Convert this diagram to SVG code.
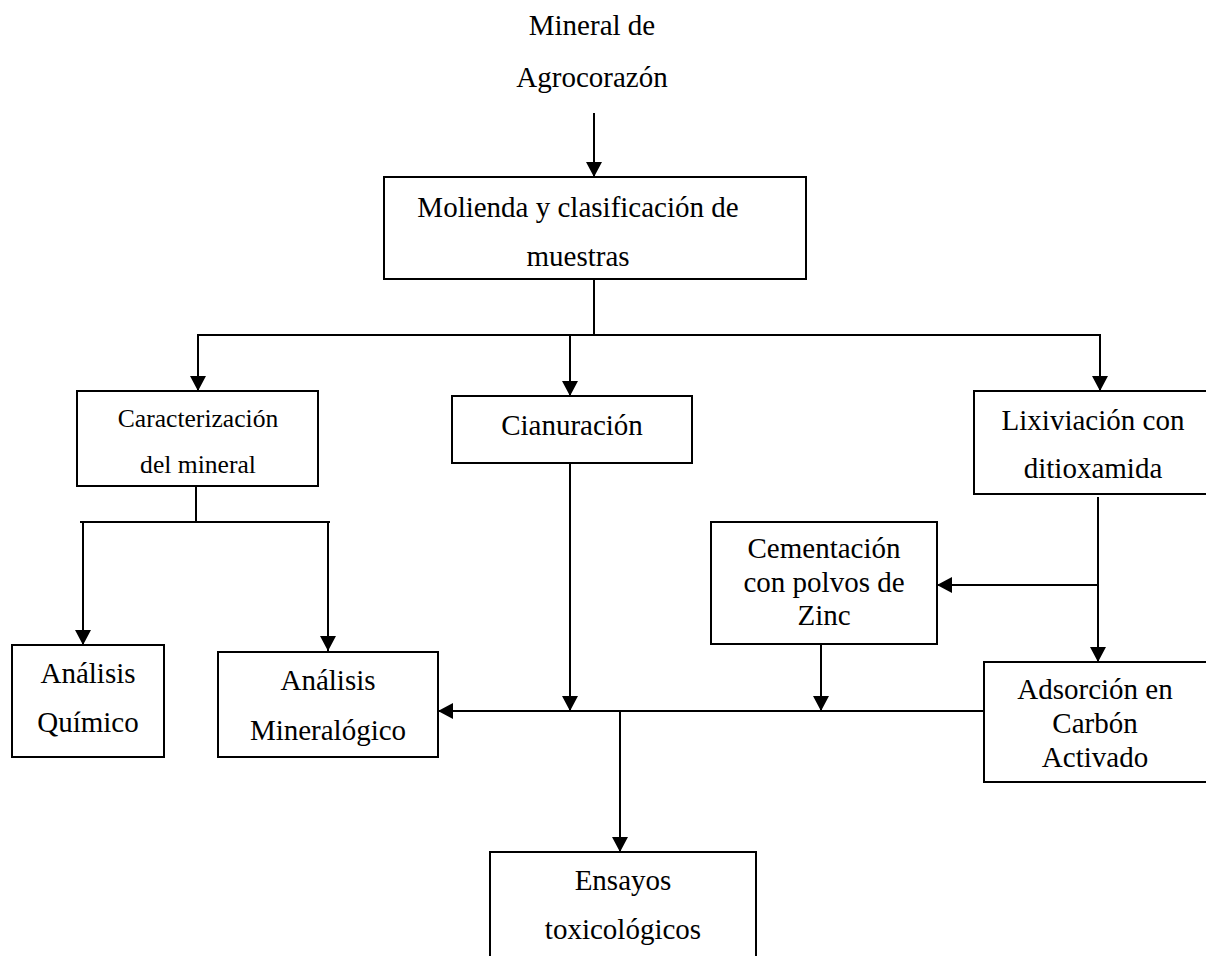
<svg xmlns="http://www.w3.org/2000/svg" width="1206" height="956" viewBox="0 0 1206 956">
<style>
text{font-family:"Liberation Serif","Times New Roman",serif;font-size:29px;fill:#000;text-anchor:middle}
.small{font-size:25.6px}
.box{fill:#fff;stroke:#000;stroke-width:2}
.ln{fill:none;stroke:#000;stroke-width:2}
</style>
<defs>
<marker id="ah" markerUnits="userSpaceOnUse" markerWidth="16" markerHeight="16" refX="15" refY="8" orient="auto">
<path d="M0,0 L15,8 L0,16 z" fill="#000"/>
</marker>
</defs>
<rect width="1206" height="956" fill="#fff"/>
<g id="connectors">
<line class="ln" x1="594" y1="113" x2="594" y2="177" marker-end="url(#ah)"/>
<line class="ln" x1="594" y1="279" x2="594" y2="335"/>
<line class="ln" x1="197" y1="335" x2="1100" y2="335"/>
<line class="ln" x1="198" y1="335" x2="198" y2="391" marker-end="url(#ah)"/>
<line class="ln" x1="570" y1="335" x2="570" y2="396" marker-end="url(#ah)"/>
<line class="ln" x1="1100" y1="334" x2="1100" y2="391" marker-end="url(#ah)"/>
<line class="ln" x1="196" y1="486" x2="196" y2="522"/>
<line class="ln" x1="80" y1="522" x2="330" y2="522"/>
<line class="ln" x1="83" y1="522" x2="83" y2="645" marker-end="url(#ah)"/>
<line class="ln" x1="328" y1="522" x2="328" y2="651" marker-end="url(#ah)"/>
<line class="ln" x1="570" y1="463" x2="570" y2="711" marker-end="url(#ah)"/>
<line class="ln" x1="984" y1="711" x2="438" y2="711" marker-end="url(#ah)"/>
<line class="ln" x1="821" y1="644" x2="821" y2="711" marker-end="url(#ah)"/>
<line class="ln" x1="620" y1="711" x2="620" y2="852" marker-end="url(#ah)"/>
<line class="ln" x1="1098" y1="497" x2="1098" y2="662" marker-end="url(#ah)"/>
<line class="ln" x1="1098" y1="585" x2="937" y2="585" marker-end="url(#ah)"/>
</g>
<g id="n-mineral">
<text x="592" y="35">Mineral de</text>
<text x="592" y="87">Agrocorazón</text>
</g>
<g id="n-molienda">
<rect class="box" x="384" y="177" width="422" height="102"/>
<text x="578" y="217">Molienda y clasificación de</text>
<text x="578" y="266">muestras</text>
</g>
<g id="n-caracterizacion">
<rect class="box" x="77" y="391" width="241" height="95"/>
<text class="small" x="198" y="427">Caracterización</text>
<text class="small" x="198" y="473">del mineral</text>
</g>
<g id="n-cianuracion">
<rect class="box" x="452" y="396" width="240" height="67"/>
<text x="572" y="435">Cianuración</text>
</g>
<g id="n-lixiviacion">
<rect class="box" x="974" y="391" width="240" height="103"/>
<text x="1093" y="430">Lixiviación con</text>
<text x="1093" y="478">ditioxamida</text>
</g>
<g id="n-cementacion">
<rect class="box" x="711" y="522" width="226" height="122"/>
<text x="824" y="558">Cementación</text>
<text x="824" y="592">con polvos de</text>
<text x="824" y="625">Zinc</text>
</g>
<g id="n-quimico">
<rect class="box" x="12" y="645" width="152" height="112"/>
<text x="88" y="683">Análisis</text>
<text x="88" y="732">Químico</text>
</g>
<g id="n-mineralogico">
<rect class="box" x="218" y="652" width="220" height="105"/>
<text x="328" y="690">Análisis</text>
<text x="328" y="740">Mineralógico</text>
</g>
<g id="n-adsorcion">
<rect class="box" x="984" y="662" width="230" height="120"/>
<text x="1095" y="699">Adsorción en</text>
<text x="1095" y="733">Carbón</text>
<text x="1095" y="767">Activado</text>
</g>
<g id="n-ensayos">
<rect class="box" x="490" y="852" width="266" height="120"/>
<text x="623" y="890">Ensayos</text>
<text x="623" y="939">toxicológicos</text>
</g>
</svg>
